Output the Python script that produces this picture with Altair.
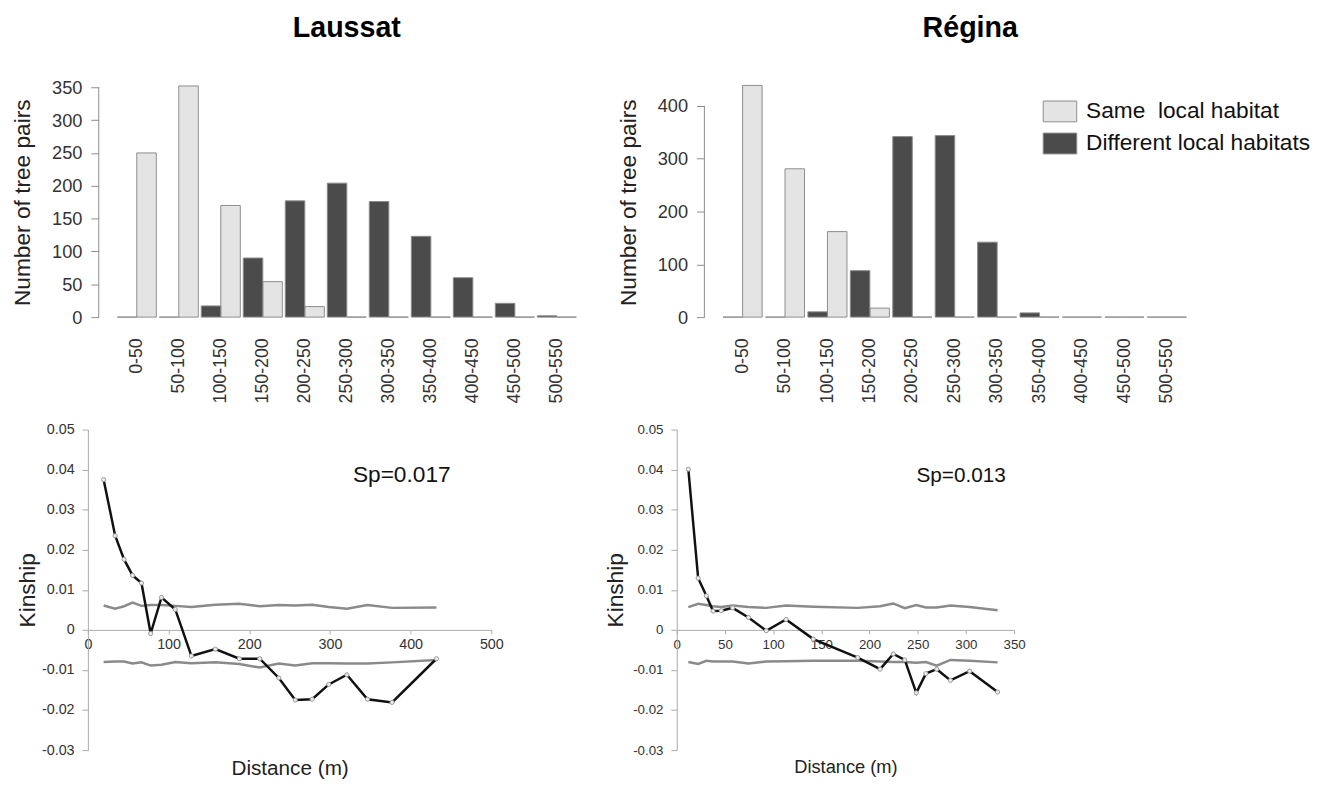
import altair as alt
import pandas as pd

# ---------------- data ----------------
categories = ["0-50", "50-100", "100-150", "150-200", "200-250", "250-300",
              "300-350", "350-400", "400-450", "450-500", "500-550"]
habitats = ["Same\u00a0 local habitat", "Different local habitats"]

laussat_same = [250, 352, 170, 54, 16, 0, 0, 0, 0, 0, 0]
laussat_diff = [0, 0, 17, 90, 177, 204, 176, 123, 60, 21, 2]
regina_same = [439, 281, 162, 17, 0, 0, 0, 0, 0, 0, 0]
regina_diff = [0, 0, 10, 88, 342, 344, 142, 8, 0, 0, 0]

laussat_ticks = [0, 50, 100, 150, 200, 250, 300, 350]
regina_ticks = [0, 100, 200, 300, 400]

dist_l = [19.5, 33.8, 44.8, 55.4, 66.4, 77.8, 91.2, 108.3, 128.3, 158.0,
          187.7, 213.0, 236.6, 257.0, 278.0, 298.5, 321.0, 346.5, 377.0, 432.0]
kin_l = [0.0375, 0.0235, 0.0176, 0.0136, 0.0117, -0.0009, 0.0081, 0.0051, -0.0065, -0.0048,
         -0.0072, -0.0072, -0.0120, -0.0175, -0.0173, -0.0136, -0.0112, -0.0173, -0.0181, -0.0072]
upper_l = [0.0061, 0.0053, 0.0059, 0.0068, 0.0060, 0.0062, 0.0062, 0.0060, 0.0057, 0.0063,
           0.0065, 0.0059, 0.0062, 0.0061, 0.0063, 0.0057, 0.0053, 0.0062, 0.0055, 0.0056]
lower_l = [-0.0080, -0.0079, -0.0079, -0.0084, -0.0081, -0.0089, -0.0087, -0.0080, -0.0083, -0.0081,
           -0.0085, -0.0094, -0.0084, -0.0089, -0.0083, -0.0083, -0.0084, -0.0084, -0.0081, -0.0075]

dist_r = [12.0, 22.2, 30.7, 37.6, 46.1, 58.0, 74.4, 92.9, 113.4, 141.7,
          187.8, 211.0, 224.6, 236.6, 248.5, 258.5, 269.7, 284.0, 303.9, 332.9]
kin_r = [0.0401, 0.0129, 0.0085, 0.0047, 0.0048, 0.0055, 0.0031, -0.0002, 0.0026, -0.0023,
         -0.0069, -0.0098, -0.0060, -0.0075, -0.0157, -0.0109, -0.0098, -0.0126, -0.0103, -0.0155]
upper_r = [0.0057, 0.0065, 0.0062, 0.0059, 0.0057, 0.0061, 0.0057, 0.0055, 0.0061, 0.0058,
           0.0055, 0.0059, 0.0066, 0.0054, 0.0062, 0.0056, 0.0056, 0.0061, 0.0057, 0.0049]
lower_r = [-0.0080, -0.0085, -0.0077, -0.0079, -0.0079, -0.0079, -0.0084, -0.0079, -0.0078, -0.0077,
           -0.0077, -0.0079, -0.0080, -0.0080, -0.0082, -0.0080, -0.0089, -0.0075, -0.0077, -0.0081]

kin_ticks = [-0.03, -0.02, -0.01, 0, 0.01, 0.02, 0.03, 0.04, 0.05]

FONT = "Liberation Sans, Arial, sans-serif"

AX = "#8c8c8c"
TXT = "#333333"


def bar_panel(same, diff, ticks, ymax, width, name, title_frame, title_offset, title_dx, with_legend):
    df = pd.DataFrame({
        "cat": categories * 2,
        "habitat": [habitats[0]] * len(categories) + [habitats[1]] * len(categories),
        "n": same + diff,
    })
    color_kw = {}
    if with_legend:
        color_kw["legend"] = alt.Legend(
            title=None, orient="none", legendX=343, legendY=7,
            symbolType="M-1,-0.62H1V0.62H-1Z", symbolSize=1156,
            symbolStrokeColor=AX, symbolStrokeWidth=1,
            labelFont=FONT, labelFontSize=23, labelColor="#111",
            labelLimit=400, labelOffset=9, rowPadding=1.5,
        )
    else:
        color_kw["legend"] = None
    y_axis = alt.Axis(values=ticks, domain=False, grid=False, tickSize=8, tickColor=AX,
                      labelPadding=9, labelFont=FONT, labelFontSize=18.5, labelColor=TXT,
                      title="Number of tree pairs", titleFont=FONT, titleFontSize=23,
                      titleFontWeight="normal", titleColor="#222", titlePadding=17)
    bars = alt.Chart(df).mark_bar(stroke=AX, strokeWidth=1).encode(
        x=alt.X("cat:N", sort=categories,
                scale=alt.Scale(paddingInner=0.07, paddingOuter=0.44),
                axis=alt.Axis(title=None, labelAngle=-90, ticks=False, tickSize=0, domain=False,
                              labelPadding=21, labelFont=FONT, labelFontSize=18, labelColor=TXT)),
        xOffset=alt.XOffset("habitat:N", sort=[habitats[1], habitats[0]],
                            scale=alt.Scale(paddingInner=0, paddingOuter=0)),
        y=alt.Y("n:Q", scale=alt.Scale(domain=[0, ymax], nice=False), axis=y_axis),
        color=alt.Color("habitat:N", scale=alt.Scale(domain=habitats, range=["#e4e4e4", "#4b4b4b"]),
                        **color_kw),
    )
    rule = alt.Chart(pd.DataFrame({"lo": [0], "hi": [ticks[-1]]})).mark_rule(
        color=AX, strokeWidth=1).encode(
        x=alt.value(0),
        y=alt.Y("lo:Q", scale=alt.Scale(domain=[0, ymax], nice=False), axis=y_axis),
        y2="hi:Q",
    )
    return alt.layer(bars, rule).properties(
        width=width, height=233,
        title=alt.Title(name, font=FONT, fontSize=29, fontWeight="bold", color="#000",
                        anchor="middle", frame=title_frame, offset=title_offset, dx=title_dx),
    )


def kin_panel(dist, kin, up, lo, xmax, xstep, width, shift, sp, spx, spy,
              lab_size, ttl_size, sp_size, ttl_pad):
    H = 325
    df = pd.DataFrame({"d": dist, "k": kin, "u": up, "l": lo})
    xscale = alt.Scale(domain=[0, xmax], nice=False, range=[-shift, width])
    yscale = alt.Scale(domain=[-0.03, 0.05], nice=False)
    xax = alt.Axis(values=list(range(0, xmax + 1, xstep)), offset=-(H * 0.03 / 0.08),
                   tickSize=4, tickColor="#aaaaaa", domainColor="#aaaaaa", grid=False,
                   labelFont=FONT, labelFontSize=lab_size, labelColor=TXT, labelPadding=4,
                   labelFlush=False, labelOverlap=False,
                   title="Distance (m)", titleFont=FONT, titleFontSize=ttl_size,
                   titleFontWeight="normal", titleColor="#222", titleY=130,
                   titleX=(width - shift) / 2)
    yax = alt.Axis(values=kin_ticks, tickSize=6, tickColor="#aaaaaa", domainColor="#aaaaaa",
                   grid=False, labelPadding=8, labelFont=FONT, labelFontSize=lab_size,
                   labelColor=TXT, offset=shift,
                   labelExpr="datum.value == 0 ? '0' : (datum.value < 0 ? '-' : '') + format(abs(datum.value), '.2f')",
                   title="Kinship", titleFont=FONT, titleFontSize=23, titleFontWeight="normal",
                   titleColor="#222", titlePadding=ttl_pad)
    X = alt.X("d:Q", scale=xscale, axis=xax)
    base = alt.Chart(df)
    upper = base.mark_line(color="#8a8a8a", strokeWidth=2.5).encode(
        x=X, y=alt.Y("u:Q", scale=yscale, axis=yax))
    lower = base.mark_line(color="#8a8a8a", strokeWidth=2.5).encode(
        x=X, y=alt.Y("l:Q", scale=yscale, axis=yax))
    line = base.mark_line(color="#111111", strokeWidth=2.5).encode(
        x=X, y=alt.Y("k:Q", scale=yscale, axis=yax))
    pts = base.mark_circle(size=18, color="#ececec", stroke="#999999", strokeWidth=1, opacity=1).encode(
        x=X, y=alt.Y("k:Q", scale=yscale, axis=yax))
    txt = alt.Chart(pd.DataFrame({"t": [sp], "x": [spx], "y": [spy]})).mark_text(
        font=FONT, fontSize=sp_size, color="#111111").encode(
        x=alt.X("x:Q", scale=xscale, axis=xax),
        y=alt.Y("y:Q", scale=yscale, axis=yax),
        text="t:N")
    return alt.layer(upper, lower, line, pts, txt).properties(width=width, height=H)


top_left = bar_panel(laussat_same, laussat_diff, laussat_ticks, 350, 503, "Laussat", "group", 36, 0, False)
top_right = bar_panel(regina_same, regina_diff, regina_ticks, 400 * 233 / 214, 508, "Régina", "bounds", 43, 6, True)
bot_left = kin_panel(dist_l, kin_l, upper_l, lower_l, 500, 100, 398, 11,
                     "Sp=0.017", 389, 0.0387, 14.5, 21, 23, 2)
bot_right = kin_panel(dist_r, kin_r, upper_r, lower_r, 350, 50, 342, 0,
                      "Sp=0.013", 295, 0.0385, 13.5, 18.5, 21, 5)

top = alt.hconcat(top_left, top_right, spacing=23).resolve_scale(
    color="independent").resolve_legend(color="independent")
bottom = alt.hconcat(bot_left, bot_right, spacing=102)

chart = alt.vconcat(top, bottom, spacing=18).properties(
    padding={"left": 4, "top": 0, "right": 0, "bottom": 0},
    background="white",
).configure(font=FONT).configure_view(strokeWidth=0)

chart.save("out.html", embed_options={"renderer": "svg", "actions": False})
